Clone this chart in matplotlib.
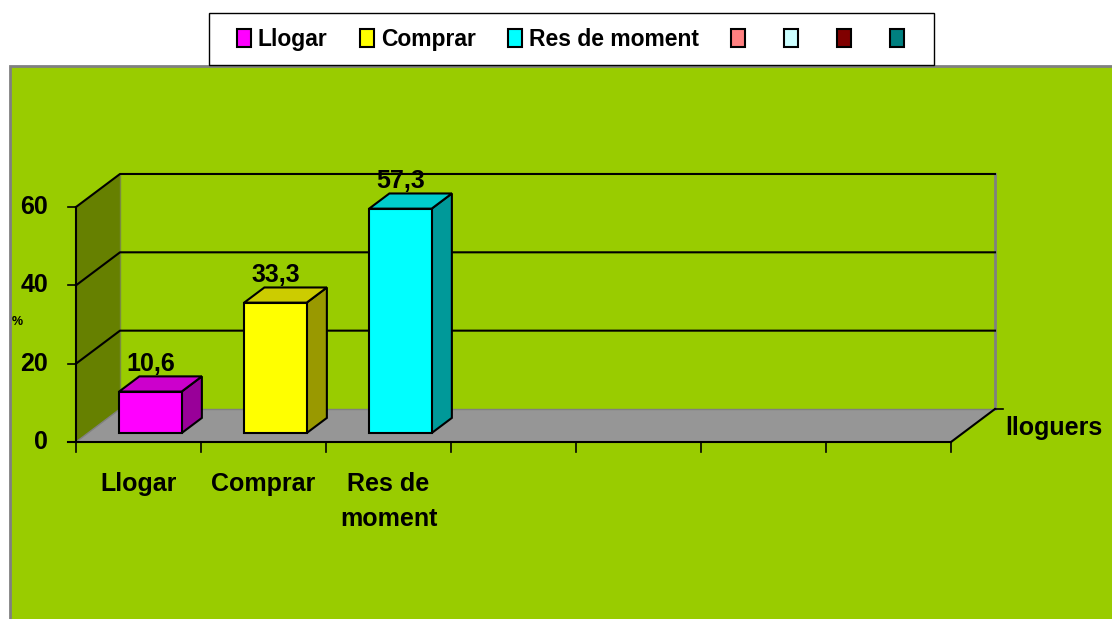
import matplotlib
matplotlib.use('Agg')
import matplotlib.pyplot as plt
from matplotlib.patches import Polygon, Rectangle, Patch

# data
categories = ['Llogar', 'Comprar', 'Res de\nmoment']
values = [10.6, 33.3, 57.3]
value_labels = ['10,6', '33,3', '57,3']
legend_labels = ['Llogar', 'Comprar', 'Res de moment', '', '', '', '']
front_colors = ['#FF00FF', '#FFFF00', '#00FFFF', '#FF8080', '#CCFFFF', '#800000', '#008080']
top_colors = ['#CC00CC', '#CCCC00', '#00CCCC']
side_colors = ['#990099', '#999900', '#009999']
yticks = [0, 20, 40, 60]
n_slots = 7
ymax = 60

plt.rcParams['font.family'] = ['Liberation Sans', 'DejaVu Sans']
plt.rcParams['font.weight'] = 'bold'
FS = 18

fig = plt.figure(figsize=(11.12, 6.19), dpi=100)
ax = fig.add_axes([0, 0, 1, 1])
ax.set_xlim(-0.608, 8.288)
ax.set_ylim(-45.19, 112.85)
ax.axis('off')

# depth offset of the fake 3d box (in data units)
DX, DY = 0.352, 8.43
f0, f1 = 0.27, 0.73   # bar front / back depth
w = 0.5

# green chart area
ax.add_patch(Rectangle((10 / 1112, -0.01), 1.0, 553 / 619 + 0.01, transform=ax.transAxes,
                       facecolor='#99CC00', edgecolor='#808080', lw=2, zorder=0))

# side wall
ax.add_patch(Polygon([(0, 0), (DX, DY), (DX, ymax + DY), (0, ymax)], closed=True,
                     facecolor='#668000', edgecolor='none', zorder=1))
ax.plot([DX, DX], [DY, ymax + DY], color='#7a8a40', lw=1, zorder=1)

# floor
ax.add_patch(Polygon([(0, 0), (n_slots, 0), (n_slots + DX, DY), (DX, DY)], closed=True,
                     facecolor='#969696', edgecolor='none', zorder=1))
ax.plot([0, DX], [0, DY], color='#808080', lw=1, zorder=2)
ax.plot([DX, n_slots + DX], [DY, DY], color='#808080', lw=1, zorder=2)
ax.plot([n_slots, n_slots + DX], [0, DY], color='black', lw=1.5, zorder=3)
ax.plot([n_slots + DX, n_slots + DX], [DY, ymax + DY], color='#808080', lw=2, zorder=2)
ax.plot([n_slots + DX, n_slots + DX + 0.06], [DY, DY], color='black', lw=1.2, zorder=3)

# gridlines
for y in yticks[1:]:
    ax.plot([0, DX, n_slots + DX], [y, y + DY, y + DY], color='black', lw=1.5, zorder=2)

# axes lines and ticks
ax.plot([0, 0], [0, ymax], color='black', lw=1.5, zorder=3)
ax.plot([-0.064, n_slots], [0, 0], color='black', lw=1.5, zorder=3)
for y in yticks:
    ax.plot([-0.064, 0], [y, y], color='black', lw=1.2, zorder=3)
    ax.text(-0.224, y, str(y), ha='right', va='center', fontsize=FS, fontweight='bold', zorder=4)
for i in range(n_slots + 1):
    ax.plot([i, i], [0, -2.55], color='black', lw=1.2, zorder=3)

# bars
for i, v in enumerate(values):
    x0 = i + 0.5 - w / 2 + f0 * DX
    y0 = f0 * DY
    ddx, ddy = (f1 - f0) * DX, (f1 - f0) * DY
    ax.add_patch(Polygon([(x0 + w, y0), (x0 + w + ddx, y0 + ddy), (x0 + w + ddx, y0 + v + ddy), (x0 + w, y0 + v)],
                         closed=True, facecolor=side_colors[i], edgecolor='black', lw=1.5, zorder=5))
    ax.add_patch(Polygon([(x0, y0 + v), (x0 + w, y0 + v), (x0 + w + ddx, y0 + v + ddy), (x0 + ddx, y0 + v + ddy)],
                         closed=True, facecolor=top_colors[i], edgecolor='black', lw=1.5, zorder=5))
    ax.add_patch(Rectangle((x0, y0), w, v, facecolor=front_colors[i], edgecolor='black', lw=1.5, zorder=6))
    ax.text(x0 + w / 2, v + f1 * DY + 3.2, value_labels[i], ha='center', va='center',
            fontsize=FS, fontweight='bold', zorder=7)

# category labels
for i, c in enumerate(categories):
    ax.text(i + 0.5, -7.6, c, ha='center', va='top', fontsize=FS, fontweight='bold', linespacing=1.6)

ax.text(-0.472, 30.6, '%', ha='center', va='center', fontsize=9, fontweight='bold')
ax.text(7.432, 3.57, 'lloguers', ha='left', va='center', fontsize=FS, fontweight='bold')

# legend box + entries
fig.patches.append(Rectangle((209 / 1112, 1 - 65 / 619), 725 / 1112, 52 / 619, transform=fig.transFigure,
                             facecolor='white', edgecolor='black', lw=1, zorder=10))
handles = [Patch(facecolor=c, edgecolor='black', lw=1.5) for c in front_colors]
leg = fig.legend(handles, legend_labels, ncol=7, loc='center', bbox_to_anchor=(574 / 1112, 1 - 39.5 / 619),
                 frameon=False, prop={'weight': 'bold', 'size': 16.5},
                 handlelength=0.62, handleheight=0.8, handletextpad=0.3, columnspacing=1.4,
                 borderpad=0.0)
leg.set_zorder(11)

fig.savefig('out.png', dpi=100)
